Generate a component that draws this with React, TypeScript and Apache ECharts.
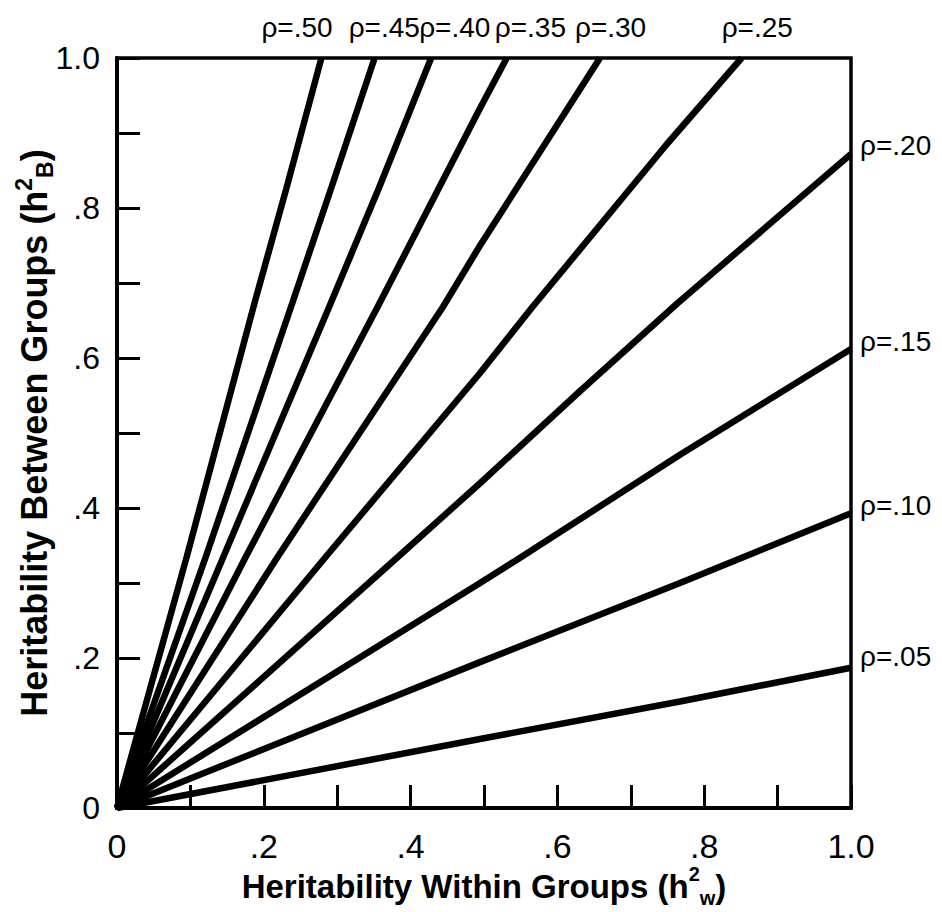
import React, { useEffect, useRef } from 'react';
import * as echarts from 'echarts';

// Series names (labels at line ends)
const seriesNames = ['ρ=.50', 'ρ=.45', 'ρ=.40', 'ρ=.35', 'ρ=.30', 'ρ=.25', 'ρ=.20', 'ρ=.15', 'ρ=.10', 'ρ=.05'];

// Points: [h²w, h²B]
const rho50 = [[0, 0], [0.095, 0.335], [0.187, 0.672], [0.231, 0.827], [0.2785, 1.0]];
const rho45 = [[0, 0], [0.121, 0.335], [0.237, 0.668], [0.292, 0.827], [0.351, 1.0]];
const rho40 = [[0, 0], [0.145, 0.335], [0.289, 0.668], [0.357, 0.827], [0.428, 1.0]];
const rho35 = [[0, 0], [0.1755, 0.335], [0.355, 0.668], [0.4946, 0.933], [0.531, 1.0]];
const rho30 = [[0, 0], [0.219, 0.335], [0.444, 0.668], [0.4946, 0.75], [0.658, 1.0]];
const rho25 = [[0, 0], [0.2845, 0.335], [0.4946, 0.58], [0.566, 0.668], [0.749, 0.885], [0.851, 1.0]];
const rho20 = [[0, 0], [0.383, 0.335], [0.4946, 0.433], [0.631, 0.556], [0.7625, 0.672], [1.0, 0.872]];
const rho15 = [[0, 0], [0.4946, 0.3], [0.545, 0.331], [0.767, 0.471], [1.0, 0.612]];
const rho10 = [[0, 0], [0.4946, 0.1945], [0.767, 0.3], [1.0, 0.393]];
const rho05 = [[0, 0], [0.4946, 0.092], [0.767, 0.142], [1.0, 0.187]];

// Tick labels
const xTickValues = [0, 0.2, 0.4, 0.6, 0.8, 1.0];
const xTickLabels = ['0', '.2', '.4', '.6', '.8', '1.0'];
const yTickValues = [0, 0.2, 0.4, 0.6, 0.8, 1.0];
const yTickLabels = ['0', '.2', '.4', '.6', '.8', '1.0'];

export default function App() {
  const ref = useRef<HTMLDivElement>(null);
  useEffect(() => {
    document.body.style.margin = '0';
    const chart = echarts.init(ref.current!, null, { renderer: 'svg' });
    const font = 'Liberation Sans';
    const fmt = (labels: string[], values: number[]) => (v: number) => {
      const i = values.findIndex((t) => Math.abs(t - v) < 1e-6);
      return i >= 0 ? labels[i] : '';
    };
    const allSeries = [rho50, rho45, rho40, rho35, rho30, rho25, rho20, rho15, rho10, rho05];
    // label placement relative to each line's end (style only)
    const labelOffsets = [
      [-60, -31], [-26, -31], [-12, -31], [-12, -31], [-25, -31], [-20, -31],
      [9, -9], [9, -8], [9, -8], [9, -11],
    ];
    const titleStyle = (size: number, smallSize: number, supLH: number, subLH: number) => ({
      fontFamily: font,
      fontSize: size,
      fontWeight: 'bold',
      color: '#000',
      lineHeight: 44,
      rich: {
        sup: {
          fontFamily: font, fontSize: smallSize, fontWeight: 'bold', color: '#000',
          verticalAlign: 'top', lineHeight: supLH,
        },
        sub: {
          fontFamily: font, fontSize: smallSize, fontWeight: 'bold', color: '#000',
          verticalAlign: 'bottom', lineHeight: subLH,
        },
      },
    });
    chart.setOption({
      animation: false,
      grid: {
        left: 117, right: 91, top: 58, bottom: 104,
        outerBoundsMode: 'none',
        containLabel: false,
        show: true, borderColor: '#000', borderWidth: 3.5, backgroundColor: 'transparent',
      },
      xAxis: {
        type: 'value', min: 0, max: 1, interval: 0.1,
        axisLine: { lineStyle: { color: '#000', width: 4 } },
        axisTick: { inside: true, length: 23, lineStyle: { color: '#000', width: 3 } },
        axisLabel: { formatter: fmt(xTickLabels, xTickValues), fontFamily: font, fontSize: 34, color: '#000', margin: 21 },
        splitLine: { show: false },
        name: 'Heritability Within Groups (h{sup|2}{sub|w})',
        nameLocation: 'middle', nameGap: 56, nameMoveOverlap: false,
        nameTextStyle: titleStyle(33, 20, 33, 15),
      },
      yAxis: {
        type: 'value', min: 0, max: 1, interval: 0.1,
        axisLine: { lineStyle: { color: '#000', width: 4 } },
        axisTick: { inside: true, length: 23, lineStyle: { color: '#000', width: 3 } },
        axisLabel: { formatter: fmt(yTickLabels, yTickValues), fontFamily: font, fontSize: 32, color: '#000', margin: 17 },
        splitLine: { show: false },
        name: 'Heritability Between Groups (h{sup|2}{sub|B})',
        nameLocation: 'middle', nameGap: 61, nameRotate: 90, nameMoveOverlap: false,
        nameTextStyle: titleStyle(36, 23, 23, 10),
      },
      series: allSeries.map((d, i) => ({
        type: 'line',
        name: seriesNames[i],
        data: d,
        showSymbol: false,
        symbol: 'none',
        silent: true,
        lineStyle: { color: '#000', width: 6.5 },
        endLabel: {
          show: true,
          formatter: seriesNames[i],
          offset: labelOffsets[i],
          distance: 0,
          fontFamily: font,
          fontSize: 28,
          color: '#000',
        },
      })),
    });
    return () => chart.dispose();
  }, []);
  return <div ref={ref} style={{ width: 942, height: 912 }} />;
}
